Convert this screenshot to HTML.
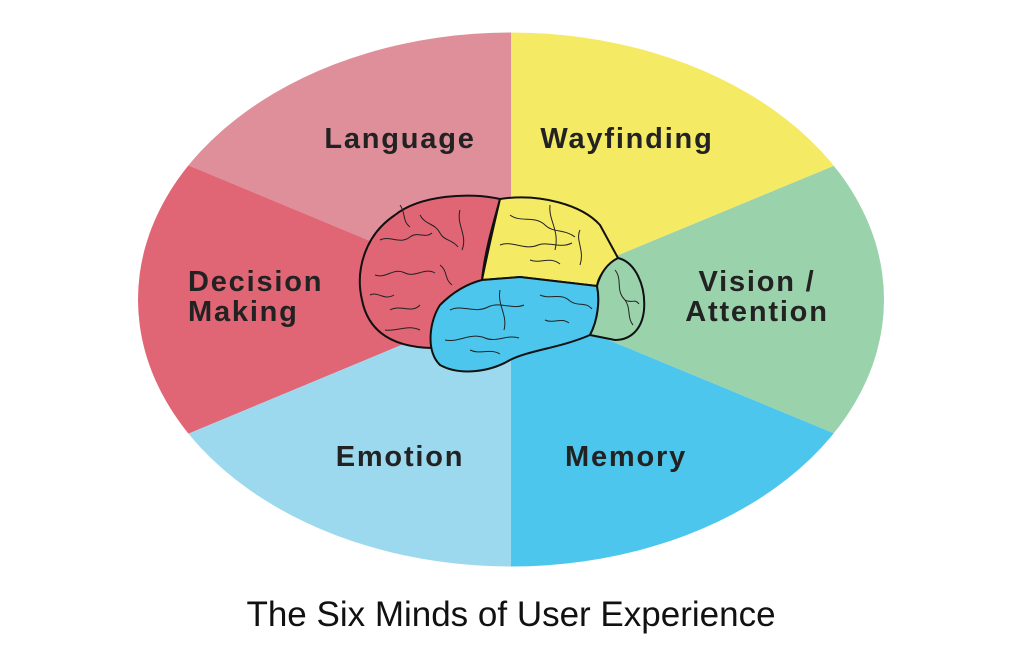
<!DOCTYPE html>
<html><head><style>
html,body{margin:0;padding:0;background:#fff;}
body{width:1024px;height:659px;overflow:hidden;position:relative;}
svg{position:absolute;left:0;top:0;}
</style></head><body>
<svg width="1024" height="659" viewBox="0 0 1024 659">
<defs><clipPath id="e"><ellipse cx="511" cy="299.5" rx="373" ry="267"/></clipPath></defs>
<g clip-path="url(#e)">
<polygon points="511,299.5 511,0 0,0 0,87" fill="#de8f9a"/>
<polygon points="511,299.5 0,87 0,512" fill="#e06575"/>
<polygon points="511,299.5 0,512 0,659 511,659" fill="#9dd9ee"/>
<polygon points="511,299.5 511,659 1024,659 1024,512" fill="#4cc6ec"/>
<polygon points="511,299.5 1024,512 1024,87" fill="#9ad2ab"/>
<polygon points="511,299.5 1024,87 1024,0 511,0" fill="#f5ea64"/>
</g>
<g stroke="#111" stroke-width="2" stroke-linejoin="round">
<path d="M500,199 C470,192 420,195 395,215 C365,235 355,270 362,300 C368,330 390,347 432,348 C440,325 455,300 482,280 C485,250 493,225 500,199 Z" fill="#e06575"/>
<path d="M500,199 C540,193 582,205 600,225 L618,258 C605,266 598,278 597,286 L520,277 L482,280 C488,250 494,225 500,199 Z" fill="#f5ea64"/>
<path d="M482,280 L520,277 L597,286 C600,300 598,320 590,335 C560,348 530,350 510,360 C490,372 460,376 440,365 C425,350 430,320 440,305 C455,290 470,283 482,280 Z" fill="#4cc6ec"/>
<path d="M618,258 C635,262 646,285 644,310 C642,330 630,340 615,340 L590,335 C598,320 600,300 597,286 C600,275 606,264 618,258 Z" fill="#9ad2ab"/>
</g>
<g stroke="#222" stroke-width="1" fill="none">
<path d="M380,240 c10,-5 20,5 30,-3 c8,-6 15,2 22,-4"/><path d="M375,275 c12,4 18,-8 30,-2 c10,5 20,-6 30,0"/>
<path d="M390,310 c10,-6 22,4 30,-5"/><path d="M420,215 c5,10 15,8 20,18 c4,8 12,6 18,14"/>
<path d="M460,210 c-4,15 8,25 2,40"/><path d="M385,330 c12,2 22,-6 35,0"/>
<path d="M370,295 c8,-4 14,6 24,0"/><path d="M400,205 c6,8 2,16 10,22"/><path d="M440,265 c8,6 4,14 12,20"/>
<path d="M510,215 c10,8 25,0 35,10 c8,8 20,4 30,12"/><path d="M500,245 c12,-5 25,6 38,0 c10,-4 22,4 34,-2"/>
<path d="M550,205 c-2,15 10,25 5,45"/><path d="M580,230 c-5,10 5,20 0,35"/><path d="M530,260 c10,4 20,-4 30,4"/>
<path d="M450,310 c12,-6 25,4 38,-3 c12,-6 24,3 36,-2"/><path d="M445,340 c14,3 25,-8 40,-2 c12,5 22,-4 34,0"/>
<path d="M500,290 c-3,15 8,25 4,40"/><path d="M540,295 c10,5 20,-3 30,6 c8,6 15,0 22,8"/>
<path d="M470,350 c10,5 20,-2 30,4"/><path d="M615,270 c8,10 0,20 10,30 c6,8 2,18 8,25"/>
<path d="M545,320 c8,4 16,-3 24,3"/><path d="M625,300 c6,4 10,-2 14,4"/>
</g>
<g font-family="'Liberation Sans',sans-serif" font-weight="bold" font-size="29" fill="#222" text-anchor="middle" letter-spacing="1.8">
<text x="400" y="148">Language</text>
<text x="627" y="148">Wayfinding</text>
<text x="188" y="291" text-anchor="start">Decision</text>
<text x="188" y="321" text-anchor="start">Making</text>
<text x="757" y="291">Vision /</text>
<text x="757" y="321">Attention</text>
<text x="400" y="466">Emotion</text>
<text x="626" y="466">Memory</text>
</g>
<text x="511" y="626" font-family="'Liberation Sans',sans-serif" font-size="35" fill="#111" text-anchor="middle">The Six Minds of User Experience</text>
</svg>
</body></html>
